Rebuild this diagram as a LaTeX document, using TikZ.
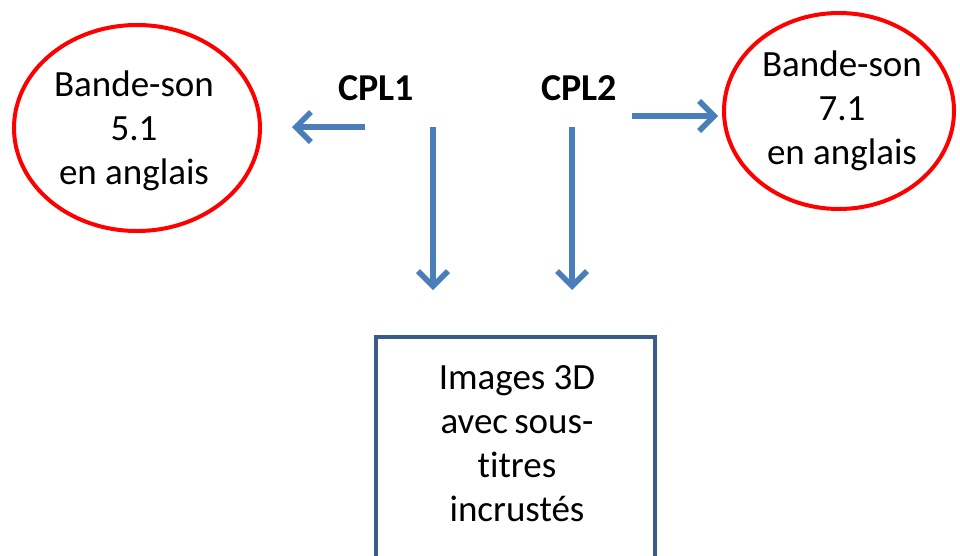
\documentclass[tikz,border=0pt]{standalone}
\usepackage{fontspec}
\setmainfont{Carlito}[Ligatures=NoCommon]
\usetikzlibrary{arrows.meta}
\definecolor{arrblue}{RGB}{74,126,187}
\definecolor{boxblue}{RGB}{56,93,138}
\definecolor{ellred}{RGB}{255,0,0}
\begin{document}
\begin{tikzpicture}[x=1pt,y=-1pt,
  ell/.style={draw=ellred,line width=4pt},
  lbl/.style={font=\fontsize{37}{44}\selectfont,align=center,inner sep=0pt},
  cpl/.style={font=\fontsize{38}{44}\selectfont\bfseries,inner sep=0pt},
  conn/.style={draw=arrblue,line width=5.5pt,-{Straight Barb[length=15pt,width=30pt,line width=5.5pt]}},
  boxst/.style={draw=boxblue,line width=3.5pt}]
\useasboundingbox (0,0) rectangle (960,555);
\begin{scope}
\clip (0,0) rectangle (960,555);
% ellipses
\draw[ell] (137,128) ellipse [x radius=123, y radius=103];
\draw[ell] (839,111) ellipse [x radius=115, y radius=98];
\node[lbl] (L) at (134,131) {Bande-son\\5.1\\en anglais};
\node[lbl] (R) at (842,111) {Bande-son\\7.1\\en anglais};
% CPL labels
\node[cpl] (C1) at (376,88) {CPL1};
\node[cpl] (C2) at (579,88) {CPL2};
% box
\draw[boxst] (376,337) rectangle (655,580);
\node[lbl] (B) at (517,444) {Images 3D\\avec\,sous-\\titres\\incrustés};
% connector endpoints
\coordinate (a1s) at (365,127);
\coordinate (a1e) at (292,127);
\coordinate (a2s) at (632,116);
\coordinate (a2e) at (718,116);
\coordinate (d1s) at (433,127);
\coordinate (d1e) at (433,290);
\coordinate (d2s) at (572,127);
\coordinate (d2e) at (572,290);
\draw[conn] (a1s) -- (a1e);
\draw[conn] (a2s) -- (a2e);
\draw[conn] (d1s) -- (d1e);
\draw[conn] (d2s) -- (d2e);
\end{scope}
\end{tikzpicture}
\end{document}
